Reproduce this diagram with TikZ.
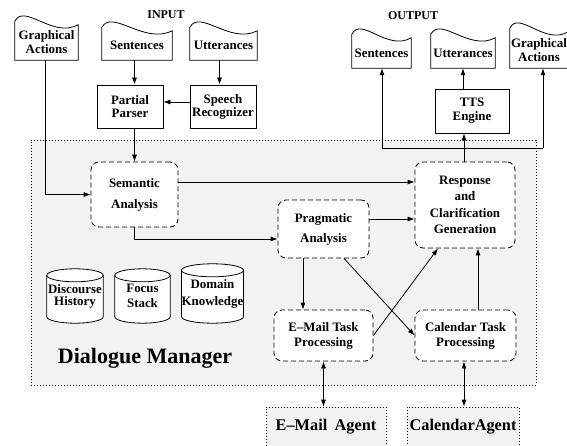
\documentclass[tikz,border=0pt]{standalone}
\usepackage{fontspec}
\setmainfont{Liberation Serif}
\usetikzlibrary{arrows.meta,calc,backgrounds}
\definecolor{dmgray}{HTML}{F2F2F2}
\tikzset{
  txt/.style={font=\bfseries\fontsize{12.9}{13}\selectfont, align=center, inner sep=0pt},
  docnode/.style={txt},
  plainbox/.style={txt, draw, line width=0.8pt, fill=white},
  procbox/.style={txt, draw, dash pattern=on 5pt off 3pt, rounded corners=8pt, fill=white, line width=0.8pt},
  cylnode/.style={txt},
  dmbox/.style={draw, dash pattern=on 0.8pt off 2.2pt, fill=dmgray, line width=0.6pt, inner sep=0pt},
  agentbox/.style={font=\bfseries\fontsize{16.3}{18}\selectfont, draw, dash pattern=on 0.8pt off 2.2pt, fill=dmgray, line width=0.6pt, inner sep=0pt},
  titlelbl/.style={font=\bfseries\fontsize{12}{12}\selectfont, inner sep=0pt},
  arr/.style={-{Latex[length=7pt,width=5pt]}, line width=0.8pt},
  darr/.style={{Latex[length=7pt,width=5pt]}-{Latex[length=7pt,width=5pt]}, line width=0.8pt},
  conn/.style={line width=0.8pt},
  outl/.style={draw, fill=white, line width=0.8pt},
}
\newcommand\docout[1]{%
  \path[outl] let \p1=(#1.north west), \p2=(#1.south east), \n1={\x2-\x1} in
    (\x1,\y2) -- (\x1,\y1+3.5pt) .. controls (\x1+0.15*\n1,\y1+22pt) and (\x1+0.6*\n1,\y1-14pt) .. (\x2,\y1) -- (\x2,\y2) -- cycle;}
\newcommand\cylout[1]{%
  \path[outl] let \p1=(#1.north west), \p2=(#1.south east), \n1={(\x2-\x1)/2} in
    (\x1,\y1-6.5pt) -- (\x1,\y2+6.5pt) arc[start angle=180,end angle=360,x radius=\n1,y radius=6.5pt]
    -- (\x2,\y1-6.5pt) arc[start angle=0,end angle=180,x radius=\n1,y radius=6.5pt] -- cycle;
  \path[draw, line width=0.8pt] let \p1=(#1.north west), \p2=(#1.south east), \n1={(\x2-\x1)/2} in
    (\x1,\y1-6.5pt) arc[start angle=180,end angle=360,x radius=\n1,y radius=6.5pt];}
\begin{document}
\begin{tikzpicture}[x=1pt,y=-1pt]
\useasboundingbox (0,0) rectangle (567,446);
% titles
\node[titlelbl] (inlabel) at (166,15) {INPUT};
\node[titlelbl] (outlabel) at (413,16) {OUTPUT};
% input side
\node[docnode, minimum width=63pt, minimum height=35pt] (gaIn) at (46.5,42.5) {Graphical\\[1pt]Actions};
\node[docnode, minimum width=70pt, minimum height=29pt] (sentIn) at (137,45.5) {Sentences};
\node[docnode, minimum width=67pt, minimum height=29pt] (uttIn) at (223.5,45.5) {Utterances};
\node[plainbox, minimum width=66pt, minimum height=43pt] (parser) at (130,106.5) {Partial\\Parser};
\node[plainbox, minimum width=66pt, minimum height=43pt] (speech) at (223,106.5) {Speech\\Recognizer};
% output side
\node[docnode, minimum width=59pt, minimum height=30pt] (sentOut) at (381.5,53) {Sentences};
\node[docnode, minimum width=64pt, minimum height=30pt] (uttOut) at (463,53) {Utterances};
\node[docnode, minimum width=58pt, minimum height=36pt] (gaOut) at (539,50) {Graphical\\[1pt]Actions};
\node[plainbox, minimum width=74pt, minimum height=44pt] (tts) at (472,111) {TTS\\[1pt]Engine};
% dialogue manager contents
\node[procbox, minimum width=87pt, minimum height=65pt] (semantic) at (134.5,194.5) {Semantic\\[8pt]Analysis};
\node[procbox, minimum width=91pt, minimum height=58pt] (pragmatic) at (323.5,229) {Pragmatic\\[7pt]Analysis};
\node[procbox, minimum width=100pt, minimum height=86pt] (response) at (465,205) {Response\\[3.5pt]and\\[3.5pt]Clarification\\[3.5pt]Generation};
\node[procbox, minimum width=99pt, minimum height=51pt] (email) at (323.5,335.5) {E–Mail Task\\[2pt]Processing};
\node[procbox, minimum width=101pt, minimum height=51pt] (calendar) at (465.5,335.5) {Calendar Task\\[2pt]Processing};
\node[cylnode, minimum width=56pt, minimum height=54pt] (discourse) at (75,296) {\raisebox{-2.5pt}{\shortstack{Discourse\\History}}};
\node[cylnode, minimum width=55pt, minimum height=54pt] (focus) at (142.5,296) {Focus\\[2pt]Stack};
\node[cylnode, minimum width=61pt, minimum height=59pt] (domain) at (212.5,293.5) {Domain\\[4pt]Knowledge};
\node[font=\bfseries\fontsize{22}{22}\selectfont, inner sep=0pt] (dmlabel) at (145,358) {Dialogue Manager};
% agents
\node[agentbox, minimum width=120pt, minimum height=40pt] (emailAgent) at (326,427) {E–Mail\hspace{0.45em}Agent};
\node[agentbox, minimum width=112pt, minimum height=40pt] (calAgent) at (463,427) {CalendarAgent};
% background shapes
\begin{scope}[on background layer]
  \node[dmbox, minimum width=505pt, minimum height=245pt] (dm) at (283.5,262.5) {};
  \docout{gaIn}\docout{sentIn}\docout{uttIn}
  \docout{sentOut}\docout{uttOut}\docout{gaOut}
  \cylout{discourse}\cylout{focus}\cylout{domain}
\end{scope}
% connectors: input
\draw[arr] (sentIn.south -| semantic.north) -- (parser.north -| semantic.north);
\draw[arr] ([xshift=-4pt]uttIn.south) -- ([xshift=-4pt]uttIn.south |- speech.north);
\draw[arr] ([yshift=4.5pt]speech.west) -- ([yshift=4.5pt]speech.west -| parser.east);
\draw[arr] (parser.south -| semantic.north) -- (semantic.north);
\draw[arr] ([xshift=-1.5pt]gaIn.south) |- (semantic.west);
% inside
\draw[arr] ([yshift=12.5pt]semantic.east) -- ([yshift=12.5pt]semantic.east -| response.west);
\draw[arr] (semantic.south) |- ([yshift=-10pt]pragmatic.west);
\draw[arr] ([yshift=10pt]pragmatic.east) -- ([yshift=10pt]pragmatic.east -| response.west);
\draw[arr] ([xshift=-20.5pt]pragmatic.south) -- ([xshift=-20.5pt]pragmatic.south |- email.north);
\draw[arr] ([xshift=20.5pt]pragmatic.south) -- (calendar.west);
\draw[arr] (email.east) -- ([xshift=-27pt]response.south);
\draw[arr] ([xshift=12.5pt]calendar.north) -- ([xshift=12.5pt]calendar.north |- response.south);
% output
\coordinate (jL) at (382,148);
\coordinate (jR) at (543,148);
\draw[conn] (jL) -- (jR);
\draw[arr] (jL) -- (jL |- sentOut.south);
\draw[arr] (jR) -- (jR |- gaOut.south);
\draw[arr] ([xshift=-1pt]response.north) -- ([xshift=-1pt]response.north |- tts.south);
\draw[arr] (tts.north -| uttOut.south) -- (uttOut.south);
% agents
\draw[darr] (email.south) -- (email.south |- emailAgent.north);
\draw[darr] ([xshift=-1.5pt]calendar.south) -- ([xshift=-1.5pt]calendar.south |- calAgent.north);
\end{tikzpicture}
\end{document}
